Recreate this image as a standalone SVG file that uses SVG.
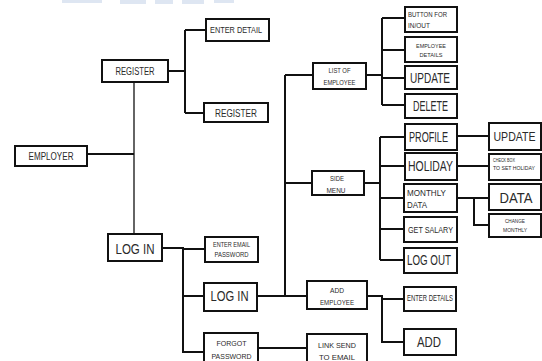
<svg xmlns="http://www.w3.org/2000/svg" width="542" height="361" viewBox="0 0 542 361">
<style>
.b{fill:#fff;stroke:#111;stroke-width:2}
text{font-family:"Liberation Sans",Arial,sans-serif;fill:#2a2a2a;text-anchor:middle}
.l{text-anchor:start}
.c{fill:none;stroke:#111;stroke-width:2}
</style>
<rect width="542" height="361" fill="#fff"/>
<g id="watermark" fill="#c9d6ea" opacity="0.6">
<rect x="62" y="0" width="40" height="3"/>
<rect x="120" y="0" width="26" height="4"/>
<rect x="155" y="0" width="18" height="4"/>
<rect x="182" y="0" width="22" height="4"/>
<rect x="214" y="0" width="20" height="3"/>
</g>
<g id="connectors">
<path class="c" d="M87,154H134"/>
<path class="c" style="stroke-width:1.3" d="M134,82V234"/>
<path class="c" d="M168,71H185M185,30V113M185,30H206M185,113H204"/>
<path class="c" d="M162,248H183V352H204M183,249H205M183,296H204"/>
<path class="c" d="M257,296H307"/>
<path class="c" d="M258,348H307"/>
<path class="c" d="M285,75V296M285,75H313M285,183H312"/>
<path class="c" d="M366,75H382M382,18V105M382,18H405M382,50H405M382,78H405M382,105H405"/>
<path class="c" d="M364,183H380M380,137V260M380,137H405M380,166H405M380,198H404M380,229H404M380,260H404"/>
<path class="c" d="M367,296H382V342H404M382,299H404"/>
<path class="c" d="M457,136H489M457,166H489"/>
<path class="c" d="M457,198H489M474,198V225H489"/>
</g>
<g id="employer"><rect class="b" x="15" y="146" width="72" height="20"/><text x="51" y="159.5" font-size="10" textLength="45" lengthAdjust="spacingAndGlyphs">EMPLOYER</text></g>
<g id="register"><rect class="b" x="102" y="60" width="66" height="22"/><text x="135" y="75" font-size="10" textLength="39" lengthAdjust="spacingAndGlyphs">REGISTER</text></g>
<g id="enter_detail"><rect class="b" x="206" y="19" width="63" height="22"/><text x="236" y="32.5" font-size="9" textLength="52" lengthAdjust="spacingAndGlyphs">ENTER DETAIL</text></g>
<g id="register2"><rect class="b" x="204" y="103" width="64" height="19"/><text x="236" y="117" font-size="10" textLength="42" lengthAdjust="spacingAndGlyphs">REGISTER</text></g>
<g id="login"><rect class="b" x="108" y="234" width="54" height="27"/><text x="135" y="254" font-size="15.5" textLength="39" lengthAdjust="spacingAndGlyphs">LOG IN</text></g>
<g id="enter_email"><rect class="b" x="205" y="237" width="53" height="25"/><text x="231.5" y="247" font-size="7" textLength="37" lengthAdjust="spacingAndGlyphs">ENTER EMAIL</text><text x="231.5" y="257" font-size="7" textLength="34" lengthAdjust="spacingAndGlyphs">PASSWORD</text></g>
<g id="login2"><rect class="b" x="204" y="283" width="53" height="28"/><text x="229.5" y="301" font-size="15.5" textLength="38" lengthAdjust="spacingAndGlyphs">LOG IN</text></g>
<g id="forgot"><rect class="b" x="204" y="333" width="54" height="30"/><text x="231.5" y="346" font-size="8" textLength="30" lengthAdjust="spacingAndGlyphs">FORGOT</text><text x="231.5" y="359" font-size="8" textLength="40" lengthAdjust="spacingAndGlyphs">PASSWORD</text></g>
<g id="link_send"><rect class="b" x="307" y="334" width="60" height="30"/><text x="337" y="348" font-size="8" textLength="38" lengthAdjust="spacingAndGlyphs">LINK SEND</text><text x="337" y="360" font-size="8" textLength="36" lengthAdjust="spacingAndGlyphs">TO EMAIL</text></g>
<g id="list_employee"><rect class="b" x="313" y="63" width="53" height="26"/><text x="339.5" y="73" font-size="7" textLength="22" lengthAdjust="spacingAndGlyphs">LIST OF</text><text x="339.5" y="85" font-size="7" textLength="32" lengthAdjust="spacingAndGlyphs">EMPLOYEE</text></g>
<g id="side_menu"><rect class="b" x="312" y="171" width="52" height="24"/><text x="337" y="181" font-size="7" textLength="14" lengthAdjust="spacingAndGlyphs">SIDE</text><text x="336" y="193" font-size="7" textLength="19" lengthAdjust="spacingAndGlyphs">MENU</text></g>
<g id="add_employee"><rect class="b" x="307" y="281" width="60" height="28"/><text x="337" y="293" font-size="7" textLength="14" lengthAdjust="spacingAndGlyphs">ADD</text><text x="337" y="305" font-size="7" textLength="34" lengthAdjust="spacingAndGlyphs">EMPLOYEE</text></g>
<g id="button_inout"><rect class="b" x="405" y="7" width="52" height="25"/><text class="l" x="408" y="17" font-size="6.5" textLength="39" lengthAdjust="spacingAndGlyphs">BUTTON FOR</text><text class="l" x="408" y="28" font-size="6.5" textLength="22" lengthAdjust="spacingAndGlyphs">IN/OUT</text></g>
<g id="employee_details"><rect class="b" x="405" y="37" width="52" height="25"/><text x="431" y="48" font-size="6" textLength="30" lengthAdjust="spacingAndGlyphs">EMPLOYEE</text><text x="431" y="57" font-size="6" textLength="23" lengthAdjust="spacingAndGlyphs">DETAILS</text></g>
<g id="update1"><rect class="b" x="405" y="66" width="52" height="23"/><text x="430" y="83" font-size="14.5" textLength="40" lengthAdjust="spacingAndGlyphs">UPDATE</text></g>
<g id="delete"><rect class="b" x="405" y="94" width="52" height="24"/><text x="430.5" y="111" font-size="14.5" textLength="35" lengthAdjust="spacingAndGlyphs">DELETE</text></g>
<g id="profile"><rect class="b" x="405" y="124" width="52" height="26"/><text x="428.5" y="142" font-size="14" textLength="39" lengthAdjust="spacingAndGlyphs">PROFILE</text></g>
<g id="holiday"><rect class="b" x="405" y="153" width="52" height="27"/><text x="430.5" y="171" font-size="14" textLength="45" lengthAdjust="spacingAndGlyphs">HOLIDAY</text></g>
<g id="monthly_data"><rect class="b" x="404" y="184" width="53" height="28"/><text class="l" x="407" y="196" font-size="8.5" textLength="39" lengthAdjust="spacingAndGlyphs">MONTHLY</text><text class="l" x="407" y="208" font-size="8.5" textLength="20" lengthAdjust="spacingAndGlyphs">DATA</text></g>
<g id="get_salary"><rect class="b" x="404" y="217" width="53" height="25"/><text x="430.5" y="233" font-size="9.5" textLength="45" lengthAdjust="spacingAndGlyphs">GET SALARY</text></g>
<g id="log_out"><rect class="b" x="404" y="248" width="53" height="25"/><text x="429" y="265" font-size="14.5" textLength="44" lengthAdjust="spacingAndGlyphs">LOG OUT</text></g>
<g id="enter_details"><rect class="b" x="404" y="287" width="52" height="24"/><text x="430" y="301" font-size="8.5" textLength="46" lengthAdjust="spacingAndGlyphs">ENTER DETAILS</text></g>
<g id="add"><rect class="b" x="404" y="329" width="52" height="26"/><text x="429" y="347" font-size="15" textLength="24" lengthAdjust="spacingAndGlyphs">ADD</text></g>
<g id="update2"><rect class="b" x="489" y="123" width="52" height="27"/><text x="514.5" y="141" font-size="12" textLength="42" lengthAdjust="spacingAndGlyphs">UPDATE</text></g>
<g id="check_box"><rect class="b" x="489" y="154" width="52" height="26"/><text class="l" x="493" y="162" font-size="5" textLength="22" lengthAdjust="spacingAndGlyphs">CHECK BOX</text><text class="l" x="493" y="170" font-size="5" textLength="42" lengthAdjust="spacingAndGlyphs">TO SET HOLIDAY</text></g>
<g id="data"><rect class="b" x="489" y="184" width="52" height="26"/><text x="516" y="203" font-size="15" textLength="33" lengthAdjust="spacingAndGlyphs">DATA</text></g>
<g id="change_monthly"><rect class="b" x="489" y="214" width="52" height="23"/><text x="515" y="223" font-size="5" textLength="20" lengthAdjust="spacingAndGlyphs">CHANGE</text><text x="515" y="232" font-size="5" textLength="24" lengthAdjust="spacingAndGlyphs">MONTHLY</text></g>
</svg>
